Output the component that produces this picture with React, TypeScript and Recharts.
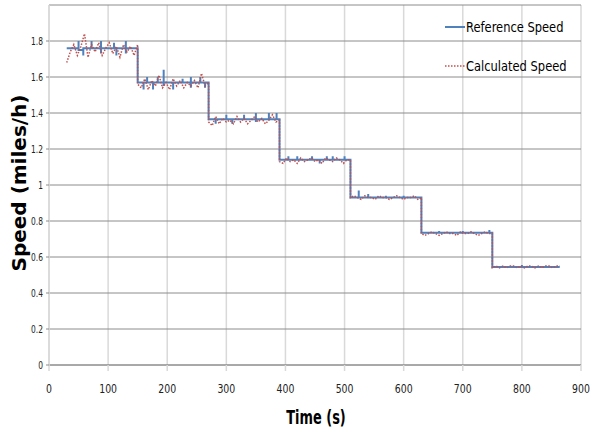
import { LineChart, Line, XAxis, YAxis, CartesianGrid, Label } from 'recharts';

// Reference speed: flat steps with short vertical spikes (repeated times = vertical strokes)
const refTime = [
  30, 50, 50, 50, 58, 58, 58, 72, 72, 72, 88, 88, 88, 88, 110, 110, 110, 114, 114, 114, 130, 130, 130, 130, 150,
  150, 160, 160, 160, 166, 166, 166, 176, 176, 176, 184, 184, 184, 194, 194, 194, 194, 210, 210, 210, 226, 226, 226, 240, 240, 240, 240, 256, 256, 256, 264, 264, 264, 270,
  270, 282, 282, 282, 300, 300, 300, 310, 310, 310, 330, 330, 330, 350, 350, 350, 350, 372, 372, 372, 385, 385, 385, 390,
  390, 405, 405, 405, 420, 420, 420, 445, 445, 445, 458, 458, 458, 470, 470, 470, 480, 480, 480, 500, 500, 500, 510,
  510, 524, 524, 524, 540, 540, 540, 570, 570, 570, 600, 600, 600, 630,
  630, 660, 660, 660, 700, 700, 700, 745, 745, 745, 750,
  750, 800, 800, 800, 864,
];

const referenceSpeed = [
  1.76, 1.76, 1.80, 1.75, 1.75, 1.72, 1.76, 1.76, 1.80, 1.76, 1.76, 1.80, 1.73, 1.76, 1.76, 1.79, 1.76, 1.76, 1.72, 1.76, 1.76, 1.80, 1.73, 1.76, 1.76,
  1.57, 1.57, 1.53, 1.57, 1.57, 1.60, 1.57, 1.57, 1.53, 1.57, 1.57, 1.60, 1.57, 1.57, 1.64, 1.55, 1.57, 1.57, 1.53, 1.57, 1.57, 1.59, 1.57, 1.57, 1.60, 1.54, 1.57, 1.57, 1.60, 1.57, 1.57, 1.54, 1.57, 1.57,
  1.365, 1.365, 1.34, 1.365, 1.365, 1.39, 1.365, 1.365, 1.34, 1.365, 1.365, 1.39, 1.365, 1.365, 1.40, 1.35, 1.365, 1.365, 1.40, 1.365, 1.365, 1.40, 1.365, 1.365,
  1.14, 1.14, 1.16, 1.14, 1.14, 1.16, 1.14, 1.14, 1.16, 1.14, 1.14, 1.12, 1.14, 1.14, 1.16, 1.14, 1.14, 1.16, 1.14, 1.14, 1.16, 1.14, 1.14,
  0.93, 0.93, 0.97, 0.93, 0.93, 0.95, 0.93, 0.93, 0.94, 0.93, 0.93, 0.94, 0.93, 0.93,
  0.735, 0.735, 0.745, 0.735, 0.735, 0.745, 0.735, 0.735, 0.75, 0.735, 0.735,
  0.545, 0.545, 0.555, 0.545, 0.545,
];

// Calculated speed: noisy estimate sampled every 6 s
const calcTime = [
  30, 36, 42, 48, 54, 60, 66, 72, 78, 84, 90, 96, 102, 108, 114, 120, 126, 132, 138, 144, 150,
  150, 156, 162, 168, 174, 180, 186, 192, 198, 204, 210, 216, 222, 228, 234, 240, 246, 252, 258, 264, 270,
  270, 276, 282, 288, 294, 300, 306, 312, 318, 324, 330, 336, 342, 348, 354, 360, 366, 372, 378, 384, 390,
  390, 396, 402, 408, 414, 420, 426, 432, 438, 444, 450, 456, 462, 468, 474, 480, 486, 492, 498, 504, 510,
  510, 516, 522, 528, 534, 540, 546, 552, 558, 564, 570, 576, 582, 588, 594, 600, 606, 612, 618, 624, 630,
  630, 636, 642, 648, 654, 660, 666, 672, 678, 684, 690, 696, 702, 708, 714, 720, 726, 732, 738, 744, 750,
  750, 756, 762, 768, 774, 780, 786, 792, 798, 804, 810, 816, 822, 828, 834, 840, 846, 852, 858, 864,
];

const calculatedSpeed = [
  1.68, 1.74, 1.78, 1.72, 1.77, 1.84, 1.71, 1.78, 1.74, 1.79, 1.72, 1.76, 1.79, 1.73, 1.77, 1.71, 1.78, 1.74, 1.77, 1.72, 1.78,
  1.56, 1.54, 1.59, 1.53, 1.58, 1.55, 1.61, 1.54, 1.57, 1.53, 1.59, 1.55, 1.58, 1.54, 1.57, 1.55, 1.58, 1.54, 1.62, 1.55, 1.57,
  1.35, 1.33, 1.38, 1.34, 1.37, 1.35, 1.36, 1.34, 1.38, 1.35, 1.37, 1.34, 1.36, 1.38, 1.35, 1.37, 1.34, 1.36, 1.39, 1.35, 1.36,
  1.13, 1.12, 1.15, 1.13, 1.14, 1.12, 1.15, 1.13, 1.14, 1.15, 1.13, 1.14, 1.12, 1.15, 1.14, 1.13, 1.15, 1.14, 1.12, 1.14, 1.14,
  0.93, 0.94, 0.93, 0.92, 0.94, 0.93, 0.93, 0.92, 0.94, 0.93, 0.93, 0.92, 0.93, 0.94, 0.93, 0.92, 0.93, 0.93, 0.94, 0.92, 0.93,
  0.73, 0.72, 0.73, 0.74, 0.73, 0.72, 0.73, 0.74, 0.73, 0.73, 0.72, 0.74, 0.73, 0.73, 0.74, 0.73, 0.72, 0.73, 0.74, 0.73, 0.73,
  0.54, 0.55, 0.54, 0.55, 0.54, 0.55, 0.55, 0.54, 0.55, 0.54, 0.55, 0.55, 0.54, 0.55, 0.54, 0.55, 0.55, 0.54, 0.55, 0.55,
];

const xTicks = [0, 100, 200, 300, 400, 500, 600, 700, 800, 900];
const yTicks = [0, 0.2, 0.4, 0.6, 0.8, 1, 1.2, 1.4, 1.6, 1.8];

const refData = refTime.map((t, i) => ({ time: t, ref: referenceSpeed[i] }));
const calcData = calcTime.map((t, i) => ({ time: t, calc: calculatedSpeed[i] }));

const font = '"DejaVu Sans", sans-serif';
const BLUE = '#4f81bd';
const RED = '#c0504d';

const XTick = ({ x, y, payload }: any) => (
  <g transform={`translate(${x},${y})`}>
    <text transform="scale(0.78,1)" textAnchor="middle" dy="0.71em" fontSize={12} fontFamily={font} fill="#222">
      {payload.value}
    </text>
  </g>
);

const YTick = ({ x, y, payload }: any) => (
  <g transform={`translate(${x},${y})`}>
    <text transform="scale(0.75,1)" textAnchor="end" dy="0.355em" fontSize={10} fontFamily={font} fill="#222">
      {payload.value}
    </text>
  </g>
);

const LegendBox = () => (
  <div style={{ position: 'absolute', left: 444, top: 17, fontFamily: font, fontSize: 14, color: '#000' }}>
    <div style={{ display: 'flex', alignItems: 'center', height: 20 }}>
      <svg width={22} height={4}><line x1={1} y1={2} x2={21} y2={2} stroke={BLUE} strokeWidth={2} /></svg>
      <span style={{ display: 'inline-block', transform: 'scaleX(0.82)', transformOrigin: 'left center', whiteSpace: 'nowrap' }}>
        Reference Speed
      </span>
    </div>
    <div style={{ display: 'flex', alignItems: 'center', height: 20, marginTop: 19 }}>
      <svg width={22} height={4}><line x1={1} y1={2} x2={21} y2={2} stroke={RED} strokeWidth={1.5} strokeDasharray="1.5 1.5" /></svg>
      <span style={{ display: 'inline-block', transform: 'scaleX(0.82)', transformOrigin: 'left center', whiteSpace: 'nowrap' }}>
        Calculated Speed
      </span>
    </div>
  </div>
);

export default function App() {
  return (
    <div style={{ position: 'absolute', left: 0, top: 0, width: 597, height: 436, background: '#fff' }}>
      <LineChart width={597} height={436} margin={{ top: 5, right: 16, bottom: 0, left: 0 }}>
        <CartesianGrid horizontal={false} stroke="#d9d9d9" strokeWidth={1.5} />
        <CartesianGrid vertical={false} stroke="#8c8c8c" strokeWidth={1} />
        <XAxis
          type="number"
          dataKey="time"
          domain={[0, 900]}
          ticks={xTicks}
          height={71}
          tickSize={6}
          tickMargin={13}
          axisLine={{ stroke: '#8c8c8c' }}
          tickLine={{ stroke: '#d9d9d9', strokeWidth: 1.5 }}
          tick={<XTick />}
        >
          <Label
            content={() => (
              <g transform="translate(316,424)">
                <text transform="scale(0.68,1)" textAnchor="middle" fontSize={19} fontWeight="bold" fontFamily={font} fill="#000">
                  Time (s)
                </text>
              </g>
            )}
          />
        </XAxis>
        <YAxis
          type="number"
          domain={[0, 2]}
          ticks={yTicks}
          width={49}
          tickSize={3}
          tickMargin={3}
          axisLine={{ stroke: '#d9d9d9', strokeWidth: 1.5 }}
          tickLine={{ stroke: '#8c8c8c' }}
          tick={<YTick />}
        >
          <Label
            content={() => (
              <text
                x={19}
                y={183}
                transform="rotate(-90 19 183)"
                textAnchor="middle"
                dominantBaseline="central"
                fontSize={20}
                fontWeight="bold"
                fontFamily={font}
                fill="#000"
              >
                Speed (miles/h)
              </text>
            )}
          />
        </YAxis>
        <Line
          data={refData}
          type="linear"
          dataKey="ref"
          name="Reference Speed"
          stroke={BLUE}
          strokeWidth={2}
          dot={false}
          isAnimationActive={false}
        />
        <Line
          data={calcData}
          type="linear"
          dataKey="calc"
          name="Calculated Speed"
          stroke={RED}
          strokeWidth={1.5}
          strokeDasharray="1.5 1.5"
          dot={false}
          isAnimationActive={false}
        />
      </LineChart>
      <LegendBox />
    </div>
  );
}
